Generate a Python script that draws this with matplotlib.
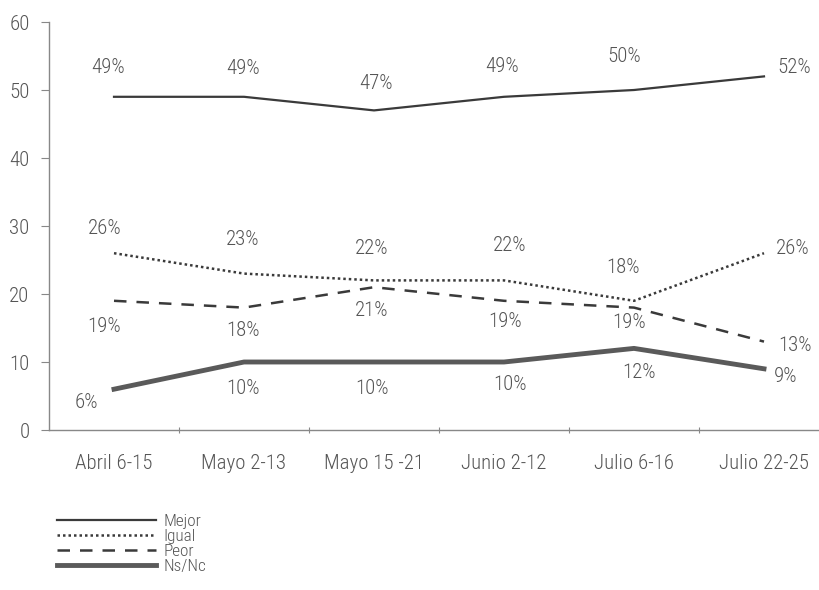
import matplotlib
matplotlib.use("Agg")
import matplotlib.pyplot as plt
from matplotlib import font_manager

names = {f.name for f in font_manager.fontManager.ttflist}
fam = next((n for n in ["Roboto Condensed", "Archivo Narrow", "PT Sans Narrow", "DejaVu Sans"] if n in names), "DejaVu Sans")
plt.rcParams["font.family"] = [fam, "DejaVu Sans"]
plt.rcParams["font.weight"] = 300

categories = ["Abril 6-15", "Mayo 2-13", "Mayo 15 -21", "Junio 2-12", "Julio 6-16", "Julio 22-25"]
mejor = [49, 49, 47, 49, 50, 52]
igual = [26, 23, 22, 22, 19, 26]
peor = [19, 18, 21, 19, 18, 13]
nsnc = [6, 10, 10, 10, 12, 9]
mejor_lbl = ["49%", "49%", "47%", "49%", "50%", "52%"]
igual_lbl = ["26%", "23%", "22%", "22%", "18%", "26%"]
peor_lbl = ["19%", "18%", "21%", "19%", "19%", "13%"]
nsnc_lbl = ["6%", "10%", "10%", "10%", "12%", "9%"]
yticks = [0, 10, 20, 30, 40, 50, 60]

txt = "#555555"
fig = plt.figure(figsize=(8.2, 5.9), dpi=100)
ax = fig.add_axes([49 / 820, 160 / 590, 780 / 820, 408 / 590])
x = list(range(len(categories)))

l1, = ax.plot(x, mejor, color="#3a3a3a", lw=1.6, label="Mejor")
l2, = ax.plot(x, igual, color="#3a3a3a", lw=1.8, ls=(0, (1, 1.2)), label="Igual")
l3, = ax.plot(x, peor, color="#3a3a3a", lw=1.8, ls=(0, (5, 4)), label="Peor")
l4, = ax.plot(x, nsnc, color="#5a5a5a", lw=3.5, label="Ns/Nc")

fs = 15
# (dx, dy) offsets in pixels for each series / point
mej_off = [(-6, 29), (-1, 28), (2, 27), (-2, 30), (-10, 33), (30, 9)]
ig_off = [(-9, 25), (-1, 34), (-2, 32), (6, 35), (-11, 33), (29, 5)]
pe_off = [(-10, -26), (-1, -23), (-2, -23), (1, -21), (-5, -15), (31, -4)]
ns_off = [(-28, -13), (-1, -26), (-2, -26), (6, -23), (5, -24), (22, -8)]
for vals, lbls, offs in [(mejor, mejor_lbl, mej_off), (igual, igual_lbl, ig_off),
                         (peor, peor_lbl, pe_off), (nsnc, nsnc_lbl, ns_off)]:
    for xi, v, s, (dx, dy) in zip(x, vals, lbls, offs):
        ax.annotate(s, (xi, v), xytext=(dx, dy), textcoords="offset pixels",
                    ha="center", va="center", fontsize=fs, color=txt)

ax.set_xlim(-0.5, 5.5)
ax.set_ylim(0, 60)
ax.set_yticks(yticks)
ax.set_yticklabels([str(t) for t in yticks], fontsize=fs, color=txt)
ax.set_xticks([i + 0.5 for i in range(len(categories) - 1)])
ax.set_xticklabels([])
ax.set_xticks(x, minor=True)
ax.set_xticklabels(categories, minor=True, fontsize=fs, color=txt)
ax.tick_params(axis="x", which="minor", length=0, pad=17)
ax.tick_params(axis="x", which="major", length=5, color="#888888", direction="inout")
ax.tick_params(axis="y", length=6, color="#888888", pad=8)
for sp in ["top", "right"]:
    ax.spines[sp].set_visible(False)
for sp in ["left", "bottom"]:
    ax.spines[sp].set_color("#888888")
    ax.spines[sp].set_linewidth(1.0)

leg = fig.legend(handles=[l1, l2, l3, l4], loc="upper left",
                 bbox_to_anchor=(48 / 820, 1 - 505 / 590), frameon=False,
                 fontsize=12.3, handlelength=5.85, handletextpad=0.4,
                 labelspacing=0.0, borderpad=0)
for t in leg.get_texts():
    t.set_color(txt)

fig.savefig("out.png", dpi=100)
